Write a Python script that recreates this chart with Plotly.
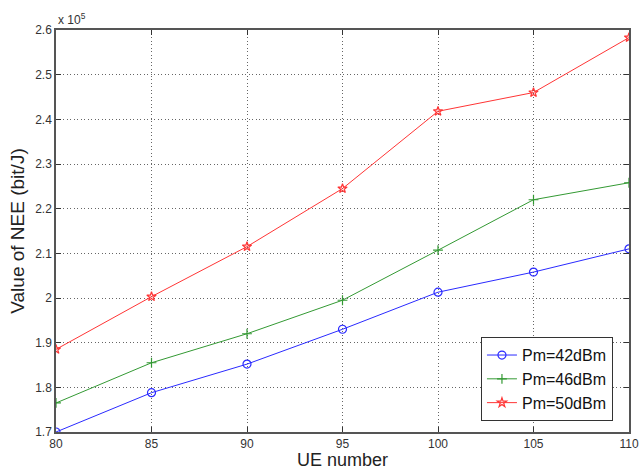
import plotly.graph_objects as go

# UE counts on the x axis
ue_number = [80, 85, 90, 95, 100, 105, 110]

# Network energy efficiency (bit/J) for each macro-cell transmit power
nee_42dbm = [170000, 178800, 185200, 193000, 201300, 205800, 211000]
nee_46dbm = [176500, 185500, 192000, 199500, 210700, 222000, 225800]
nee_50dbm = [188500, 200300, 211500, 224500, 241800, 246000, 258300]

series_names = ["Pm=42dBm", "Pm=46dBm", "Pm=50dBm"]

# y tick positions and labels (in units of 10^5)
y_tick_vals = [170000, 180000, 190000, 200000, 210000, 220000, 230000, 240000, 250000, 260000]
y_tick_text = ["1.7", "1.8", "1.9", "2", "2.1", "2.2", "2.3", "2.4", "2.5", "2.6"]
x_tick_vals = [80, 85, 90, 95, 100, 105, 110]

font_family = "Liberation Sans, Arial, sans-serif"

fig = go.Figure()
styles = [
    dict(color="#2a2aff", symbol="circle-open", size=8),
    dict(color="#339933", symbol="cross-thin-open", size=7),
    dict(color="#ff3535", symbol="star-open", size=7),
]
for name, vals, st in zip(series_names, [nee_42dbm, nee_46dbm, nee_50dbm], styles):
    fig.add_trace(go.Scatter(
        x=ue_number, y=vals, name=name, mode="lines+markers",
        line=dict(color=st["color"], width=1),
        marker=dict(symbol=st["symbol"], size=st["size"], color=st["color"],
                    line=dict(color=st["color"], width=1.2)),
    ))

axis_common = dict(
    showline=True, linecolor="#555555", linewidth=1.5, mirror="ticks",
    ticks="inside", ticklen=5, tickcolor="#333333",
    showgrid=True, gridcolor="#666666", griddash="1px,2.5px", gridwidth=1,
    zeroline=False, automargin=False,
    tickfont=dict(family=font_family, size=12, color="#333333"),
)

fig.update_xaxes(
    range=[80, 110], tickvals=x_tick_vals,
    title=dict(text="UE number", font=dict(family=font_family, size=18, color="#222222"), standoff=8),
    **axis_common,
)
fig.update_yaxes(
    range=[170000, 260000], tickvals=y_tick_vals, ticktext=y_tick_text,
    title=dict(text="Value of NEE (bit/J)", font=dict(family=font_family, size=19, color="#222222"), standoff=6),
    **axis_common,
)

fig.add_annotation(
    x=0, y=1, xref="paper", yref="paper", xanchor="left", yanchor="bottom",
    text="x 10<sup>5</sup>", showarrow=False, yshift=1,
    font=dict(family=font_family, size=12, color="#333333"),
)

fig.update_layout(
    width=639, height=470,
    margin=dict(l=56, r=10, t=30, b=38),
    paper_bgcolor="white", plot_bgcolor="white",
    legend=dict(
        x=0.972, y=0.236, xanchor="right", yanchor="top",
        bgcolor="white", bordercolor="#333333", borderwidth=1,
        font=dict(family=font_family, size=16, color="#111111"),
        tracegroupgap=0,
    ),
)

fig.write_html("out.html")
